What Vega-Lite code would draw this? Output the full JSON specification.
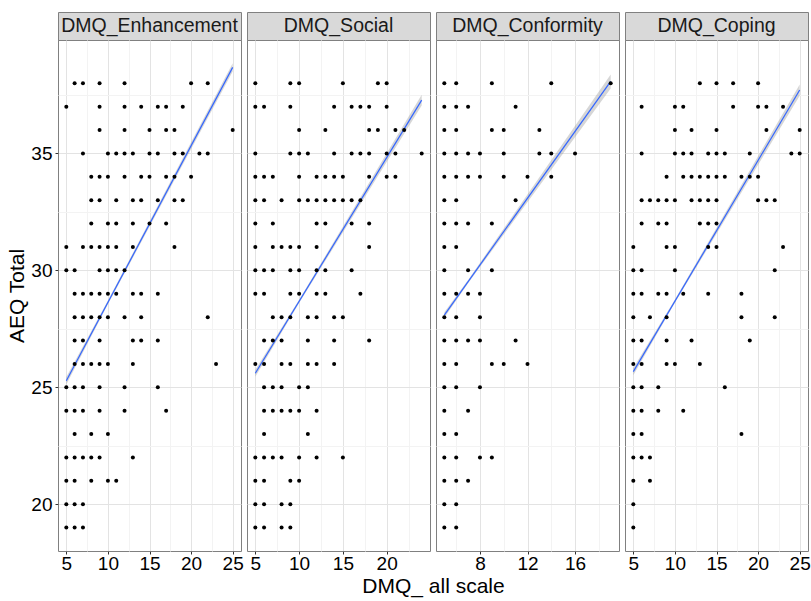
{
"$schema": "https://vega.github.io/schema/vega-lite/v6.json",
"padding": {"left": 6, "top": 11, "right": 0, "bottom": 50},
"config": {"font": "Liberation Sans", "view": {"stroke": "#808080"}, "axis": {"labelOverlap": false, "labelBound": false}},
"datasets": {
"pts": [
{"p":"E","x":6,"y":38},{"p":"E","x":7,"y":38},{"p":"E","x":9,"y":38},{"p":"E","x":12,"y":38},{"p":"E","x":20,"y":38},{"p":"E","x":22,"y":38},
{"p":"E","x":5,"y":37},{"p":"E","x":9,"y":37},{"p":"E","x":12,"y":37},{"p":"E","x":14,"y":37},{"p":"E","x":16,"y":37},{"p":"E","x":17,"y":37},{"p":"E","x":19,"y":37},
{"p":"E","x":9,"y":36},{"p":"E","x":12,"y":36},{"p":"E","x":15,"y":36},{"p":"E","x":17,"y":36},{"p":"E","x":18,"y":36},{"p":"E","x":25,"y":36},
{"p":"E","x":7,"y":35},{"p":"E","x":10,"y":35},{"p":"E","x":11,"y":35},{"p":"E","x":12,"y":35},{"p":"E","x":13,"y":35},{"p":"E","x":15,"y":35},{"p":"E","x":16,"y":35},{"p":"E","x":18,"y":35},{"p":"E","x":19,"y":35},{"p":"E","x":21,"y":35},{"p":"E","x":22,"y":35},
{"p":"E","x":8,"y":34},{"p":"E","x":9,"y":34},{"p":"E","x":10,"y":34},{"p":"E","x":12,"y":34},{"p":"E","x":14,"y":34},{"p":"E","x":15,"y":34},{"p":"E","x":17,"y":34},{"p":"E","x":18,"y":34},{"p":"E","x":20,"y":34},
{"p":"E","x":8,"y":33},{"p":"E","x":9,"y":33},{"p":"E","x":11,"y":33},{"p":"E","x":13,"y":33},{"p":"E","x":14,"y":33},{"p":"E","x":16,"y":33},{"p":"E","x":18,"y":33},{"p":"E","x":19,"y":33},
{"p":"E","x":8,"y":32},{"p":"E","x":10,"y":32},{"p":"E","x":11,"y":32},{"p":"E","x":13,"y":32},{"p":"E","x":15,"y":32},{"p":"E","x":17,"y":32},
{"p":"E","x":5,"y":31},{"p":"E","x":7,"y":31},{"p":"E","x":8,"y":31},{"p":"E","x":9,"y":31},{"p":"E","x":10,"y":31},{"p":"E","x":11,"y":31},{"p":"E","x":13,"y":31},{"p":"E","x":18,"y":31},
{"p":"E","x":5,"y":30},{"p":"E","x":6,"y":30},{"p":"E","x":9,"y":30},{"p":"E","x":10,"y":30},{"p":"E","x":11,"y":30},{"p":"E","x":12,"y":30},
{"p":"E","x":6,"y":29},{"p":"E","x":7,"y":29},{"p":"E","x":8,"y":29},{"p":"E","x":9,"y":29},{"p":"E","x":10,"y":29},{"p":"E","x":11,"y":29},{"p":"E","x":13,"y":29},{"p":"E","x":14,"y":29},{"p":"E","x":16,"y":29},
{"p":"E","x":6,"y":28},{"p":"E","x":7,"y":28},{"p":"E","x":8,"y":28},{"p":"E","x":9,"y":28},{"p":"E","x":10,"y":28},{"p":"E","x":12,"y":28},{"p":"E","x":14,"y":28},{"p":"E","x":22,"y":28},
{"p":"E","x":6,"y":27},{"p":"E","x":7,"y":27},{"p":"E","x":9,"y":27},{"p":"E","x":13,"y":27},{"p":"E","x":14,"y":27},{"p":"E","x":16,"y":27},
{"p":"E","x":6,"y":26},{"p":"E","x":7,"y":26},{"p":"E","x":8,"y":26},{"p":"E","x":9,"y":26},{"p":"E","x":10,"y":26},{"p":"E","x":13,"y":26},{"p":"E","x":23,"y":26},
{"p":"E","x":5,"y":25},{"p":"E","x":6,"y":25},{"p":"E","x":7,"y":25},{"p":"E","x":9,"y":25},{"p":"E","x":12,"y":25},{"p":"E","x":16,"y":25},
{"p":"E","x":5,"y":24},{"p":"E","x":6,"y":24},{"p":"E","x":7,"y":24},{"p":"E","x":9,"y":24},{"p":"E","x":12,"y":24},{"p":"E","x":17,"y":24},
{"p":"E","x":6,"y":23},{"p":"E","x":8,"y":23},{"p":"E","x":10,"y":23},
{"p":"E","x":5,"y":22},{"p":"E","x":6,"y":22},{"p":"E","x":7,"y":22},{"p":"E","x":8,"y":22},{"p":"E","x":9,"y":22},{"p":"E","x":13,"y":22},
{"p":"E","x":5,"y":21},{"p":"E","x":6,"y":21},{"p":"E","x":8,"y":21},{"p":"E","x":10,"y":21},{"p":"E","x":11,"y":21},
{"p":"E","x":5,"y":20},{"p":"E","x":6,"y":20},{"p":"E","x":7,"y":20},
{"p":"E","x":5,"y":19},{"p":"E","x":6,"y":19},{"p":"E","x":7,"y":19},

{"p":"S","x":5,"y":38},{"p":"S","x":9,"y":38},{"p":"S","x":10,"y":38},{"p":"S","x":15,"y":38},{"p":"S","x":19,"y":38},{"p":"S","x":20,"y":38},
{"p":"S","x":5,"y":37},{"p":"S","x":6,"y":37},{"p":"S","x":9,"y":37},{"p":"S","x":14,"y":37},{"p":"S","x":16,"y":37},{"p":"S","x":17,"y":37},{"p":"S","x":18,"y":37},{"p":"S","x":20,"y":37},
{"p":"S","x":10,"y":36},{"p":"S","x":13,"y":36},{"p":"S","x":18,"y":36},{"p":"S","x":19,"y":36},{"p":"S","x":21,"y":36},{"p":"S","x":22,"y":36},
{"p":"S","x":5,"y":35},{"p":"S","x":9,"y":35},{"p":"S","x":10,"y":35},{"p":"S","x":11,"y":35},{"p":"S","x":14,"y":35},{"p":"S","x":16,"y":35},{"p":"S","x":17,"y":35},{"p":"S","x":18,"y":35},{"p":"S","x":20,"y":35},{"p":"S","x":21,"y":35},{"p":"S","x":24,"y":35},
{"p":"S","x":5,"y":34},{"p":"S","x":6,"y":34},{"p":"S","x":7,"y":34},{"p":"S","x":10,"y":34},{"p":"S","x":12,"y":34},{"p":"S","x":13,"y":34},{"p":"S","x":14,"y":34},{"p":"S","x":15,"y":34},{"p":"S","x":18,"y":34},{"p":"S","x":20,"y":34},{"p":"S","x":21,"y":34},
{"p":"S","x":5,"y":33},{"p":"S","x":6,"y":33},{"p":"S","x":8,"y":33},{"p":"S","x":10,"y":33},{"p":"S","x":11,"y":33},{"p":"S","x":12,"y":33},{"p":"S","x":13,"y":33},{"p":"S","x":14,"y":33},{"p":"S","x":15,"y":33},{"p":"S","x":16,"y":33},{"p":"S","x":17,"y":33},
{"p":"S","x":5,"y":32},{"p":"S","x":7,"y":32},{"p":"S","x":12,"y":32},{"p":"S","x":13,"y":32},{"p":"S","x":16,"y":32},{"p":"S","x":18,"y":32},
{"p":"S","x":5,"y":31},{"p":"S","x":7,"y":31},{"p":"S","x":8,"y":31},{"p":"S","x":9,"y":31},{"p":"S","x":10,"y":31},{"p":"S","x":12,"y":31},{"p":"S","x":18,"y":31},
{"p":"S","x":5,"y":30},{"p":"S","x":6,"y":30},{"p":"S","x":7,"y":30},{"p":"S","x":9,"y":30},{"p":"S","x":10,"y":30},{"p":"S","x":12,"y":30},{"p":"S","x":13,"y":30},{"p":"S","x":16,"y":30},
{"p":"S","x":5,"y":29},{"p":"S","x":6,"y":29},{"p":"S","x":9,"y":29},{"p":"S","x":10,"y":29},{"p":"S","x":12,"y":29},{"p":"S","x":13,"y":29},{"p":"S","x":17,"y":29},
{"p":"S","x":7,"y":28},{"p":"S","x":8,"y":28},{"p":"S","x":9,"y":28},{"p":"S","x":11,"y":28},{"p":"S","x":12,"y":28},{"p":"S","x":14,"y":28},{"p":"S","x":15,"y":28},
{"p":"S","x":6,"y":27},{"p":"S","x":7,"y":27},{"p":"S","x":8,"y":27},{"p":"S","x":11,"y":27},{"p":"S","x":14,"y":27},{"p":"S","x":18,"y":27},
{"p":"S","x":5,"y":26},{"p":"S","x":6,"y":26},{"p":"S","x":8,"y":26},{"p":"S","x":9,"y":26},{"p":"S","x":11,"y":26},{"p":"S","x":12,"y":26},{"p":"S","x":14,"y":26},
{"p":"S","x":6,"y":25},{"p":"S","x":7,"y":25},{"p":"S","x":8,"y":25},{"p":"S","x":10,"y":25},{"p":"S","x":11,"y":25},
{"p":"S","x":6,"y":24},{"p":"S","x":7,"y":24},{"p":"S","x":8,"y":24},{"p":"S","x":9,"y":24},{"p":"S","x":10,"y":24},{"p":"S","x":12,"y":24},
{"p":"S","x":6,"y":23},{"p":"S","x":11,"y":23},
{"p":"S","x":5,"y":22},{"p":"S","x":6,"y":22},{"p":"S","x":7,"y":22},{"p":"S","x":8,"y":22},{"p":"S","x":10,"y":22},{"p":"S","x":12,"y":22},{"p":"S","x":15,"y":22},
{"p":"S","x":5,"y":21},{"p":"S","x":6,"y":21},{"p":"S","x":9,"y":21},{"p":"S","x":10,"y":21},
{"p":"S","x":5,"y":20},{"p":"S","x":6,"y":20},{"p":"S","x":8,"y":20},{"p":"S","x":9,"y":20},
{"p":"S","x":5,"y":19},{"p":"S","x":6,"y":19},{"p":"S","x":8,"y":19},{"p":"S","x":9,"y":19},

{"p":"C","x":5,"y":38},{"p":"C","x":6,"y":38},{"p":"C","x":9,"y":38},{"p":"C","x":14,"y":38},{"p":"C","x":19,"y":38},
{"p":"C","x":5,"y":37},{"p":"C","x":6,"y":37},{"p":"C","x":7,"y":37},{"p":"C","x":11,"y":37},
{"p":"C","x":5,"y":36},{"p":"C","x":6,"y":36},{"p":"C","x":9,"y":36},{"p":"C","x":10,"y":36},{"p":"C","x":13,"y":36},
{"p":"C","x":5,"y":35},{"p":"C","x":6,"y":35},{"p":"C","x":7,"y":35},{"p":"C","x":8,"y":35},{"p":"C","x":10,"y":35},{"p":"C","x":13,"y":35},{"p":"C","x":14,"y":35},{"p":"C","x":16,"y":35},
{"p":"C","x":5,"y":34},{"p":"C","x":6,"y":34},{"p":"C","x":7,"y":34},{"p":"C","x":8,"y":34},{"p":"C","x":10,"y":34},{"p":"C","x":12,"y":34},{"p":"C","x":14,"y":34},
{"p":"C","x":5,"y":33},{"p":"C","x":6,"y":33},{"p":"C","x":11,"y":33},
{"p":"C","x":5,"y":32},{"p":"C","x":6,"y":32},{"p":"C","x":7,"y":32},{"p":"C","x":9,"y":32},
{"p":"C","x":5,"y":31},{"p":"C","x":6,"y":31},
{"p":"C","x":5,"y":30},{"p":"C","x":7,"y":30},{"p":"C","x":9,"y":30},
{"p":"C","x":5,"y":29},{"p":"C","x":6,"y":29},{"p":"C","x":7,"y":29},{"p":"C","x":8,"y":29},
{"p":"C","x":5,"y":28},{"p":"C","x":6,"y":28},{"p":"C","x":8,"y":28},
{"p":"C","x":5,"y":27},{"p":"C","x":6,"y":27},{"p":"C","x":7,"y":27},{"p":"C","x":8,"y":27},{"p":"C","x":11,"y":27},
{"p":"C","x":5,"y":26},{"p":"C","x":6,"y":26},{"p":"C","x":9,"y":26},{"p":"C","x":10,"y":26},{"p":"C","x":12,"y":26},
{"p":"C","x":5,"y":25},{"p":"C","x":6,"y":25},{"p":"C","x":8,"y":25},
{"p":"C","x":5,"y":24},{"p":"C","x":7,"y":24},
{"p":"C","x":5,"y":23},{"p":"C","x":6,"y":23},
{"p":"C","x":5,"y":22},{"p":"C","x":6,"y":22},{"p":"C","x":8,"y":22},{"p":"C","x":9,"y":22},
{"p":"C","x":5,"y":21},{"p":"C","x":6,"y":21},{"p":"C","x":7,"y":21},
{"p":"C","x":5,"y":20},{"p":"C","x":6,"y":20},
{"p":"C","x":5,"y":19},{"p":"C","x":6,"y":19},

{"p":"P","x":13,"y":38},{"p":"P","x":15,"y":38},{"p":"P","x":17,"y":38},{"p":"P","x":20,"y":38},
{"p":"P","x":6,"y":37},{"p":"P","x":10,"y":37},{"p":"P","x":11,"y":37},{"p":"P","x":17,"y":37},{"p":"P","x":20,"y":37},{"p":"P","x":21,"y":37},{"p":"P","x":23,"y":37},
{"p":"P","x":10,"y":36},{"p":"P","x":12,"y":36},{"p":"P","x":15,"y":36},{"p":"P","x":21,"y":36},{"p":"P","x":25,"y":36},
{"p":"P","x":6,"y":35},{"p":"P","x":10,"y":35},{"p":"P","x":11,"y":35},{"p":"P","x":12,"y":35},{"p":"P","x":14,"y":35},{"p":"P","x":15,"y":35},{"p":"P","x":16,"y":35},{"p":"P","x":19,"y":35},{"p":"P","x":24,"y":35},{"p":"P","x":25,"y":35},
{"p":"P","x":9,"y":34},{"p":"P","x":11,"y":34},{"p":"P","x":12,"y":34},{"p":"P","x":13,"y":34},{"p":"P","x":14,"y":34},{"p":"P","x":15,"y":34},{"p":"P","x":16,"y":34},{"p":"P","x":18,"y":34},{"p":"P","x":19,"y":34},{"p":"P","x":20,"y":34},
{"p":"P","x":6,"y":33},{"p":"P","x":7,"y":33},{"p":"P","x":8,"y":33},{"p":"P","x":9,"y":33},{"p":"P","x":10,"y":33},{"p":"P","x":12,"y":33},{"p":"P","x":13,"y":33},{"p":"P","x":14,"y":33},{"p":"P","x":15,"y":33},{"p":"P","x":20,"y":33},{"p":"P","x":21,"y":33},{"p":"P","x":22,"y":33},
{"p":"P","x":6,"y":32},{"p":"P","x":8,"y":32},{"p":"P","x":9,"y":32},{"p":"P","x":13,"y":32},{"p":"P","x":14,"y":32},{"p":"P","x":15,"y":32},
{"p":"P","x":5,"y":31},{"p":"P","x":9,"y":31},{"p":"P","x":10,"y":31},{"p":"P","x":14,"y":31},{"p":"P","x":15,"y":31},{"p":"P","x":23,"y":31},
{"p":"P","x":5,"y":30},{"p":"P","x":6,"y":30},{"p":"P","x":10,"y":30},{"p":"P","x":22,"y":30},
{"p":"P","x":5,"y":29},{"p":"P","x":6,"y":29},{"p":"P","x":8,"y":29},{"p":"P","x":9,"y":29},{"p":"P","x":11,"y":29},{"p":"P","x":14,"y":29},{"p":"P","x":18,"y":29},
{"p":"P","x":5,"y":28},{"p":"P","x":7,"y":28},{"p":"P","x":9,"y":28},{"p":"P","x":18,"y":28},{"p":"P","x":22,"y":28},
{"p":"P","x":5,"y":27},{"p":"P","x":6,"y":27},{"p":"P","x":9,"y":27},{"p":"P","x":12,"y":27},{"p":"P","x":19,"y":27},
{"p":"P","x":5,"y":26},{"p":"P","x":6,"y":26},{"p":"P","x":9,"y":26},{"p":"P","x":10,"y":26},{"p":"P","x":13,"y":26},
{"p":"P","x":5,"y":25},{"p":"P","x":6,"y":25},{"p":"P","x":8,"y":25},{"p":"P","x":16,"y":25},
{"p":"P","x":5,"y":24},{"p":"P","x":6,"y":24},{"p":"P","x":8,"y":24},{"p":"P","x":11,"y":24},
{"p":"P","x":5,"y":23},{"p":"P","x":6,"y":23},{"p":"P","x":18,"y":23},
{"p":"P","x":5,"y":22},{"p":"P","x":6,"y":22},{"p":"P","x":7,"y":22},
{"p":"P","x":5,"y":21},{"p":"P","x":7,"y":21},
{"p":"P","x":5,"y":20},
{"p":"P","x":5,"y":19}
],
"line": [
{"p":"E","x":5,"y":25.28},{"p":"E","x":25,"y":38.68},
{"p":"S","x":5,"y":25.6},{"p":"S","x":24,"y":37.28},
{"p":"C","x":5,"y":28.09},{"p":"C","x":19,"y":38.08},
{"p":"P","x":5,"y":25.67},{"p":"P","x":25,"y":37.71}
],
"band": [
{"p":"E","x":5,"y":25.12,"yhi":25.44},{"p":"E","x":10,"y":28.55,"yhi":28.71},{"p":"E","x":25,"y":38.5,"yhi":38.86},
{"p":"S","x":5,"y":25.45,"yhi":25.75},{"p":"S","x":10,"y":28.6,"yhi":28.74},{"p":"S","x":24,"y":37.05,"yhi":37.51},
{"p":"C","x":5,"y":27.97,"yhi":28.21},{"p":"C","x":7,"y":29.45,"yhi":29.59},{"p":"C","x":19,"y":37.78,"yhi":38.38},
{"p":"P","x":5,"y":25.52,"yhi":25.82},{"p":"P","x":10,"y":28.61,"yhi":28.75},{"p":"P","x":25,"y":37.47,"yhi":37.95}
]
},
"columns": 4,
"spacing": {"row": 0, "column": 6},
"bounds": "flush",
"concat": [
 {"width": 183, "height": 28, "view": {"fill": "#d9d9d9", "stroke": "#808080"},
  "data": {"values": [{"label": "DMQ_Enhancement"}]},
  "mark": {"type": "text", "fontSize": 19.5, "color": "#1a1a1a", "baseline": "middle"},
  "encoding": {"text": {"field": "label"}, "x": {"field": "label", "type": "nominal", "axis": null}, "y": {"field": "label", "type": "nominal", "axis": null}}},
 {"width": 183, "height": 28, "view": {"fill": "#d9d9d9", "stroke": "#808080"},
  "data": {"values": [{"label": "DMQ_Social"}]},
  "mark": {"type": "text", "fontSize": 19.5, "color": "#1a1a1a", "baseline": "middle"},
  "encoding": {"text": {"field": "label"}, "x": {"field": "label", "type": "nominal", "axis": null}, "y": {"field": "label", "type": "nominal", "axis": null}}},
 {"width": 183, "height": 28, "view": {"fill": "#d9d9d9", "stroke": "#808080"},
  "data": {"values": [{"label": "DMQ_Conformity"}]},
  "mark": {"type": "text", "fontSize": 19.5, "color": "#1a1a1a", "baseline": "middle"},
  "encoding": {"text": {"field": "label"}, "x": {"field": "label", "type": "nominal", "axis": null}, "y": {"field": "label", "type": "nominal", "axis": null}}},
 {"width": 183, "height": 28, "view": {"fill": "#d9d9d9", "stroke": "#808080"},
  "data": {"values": [{"label": "DMQ_Coping"}]},
  "mark": {"type": "text", "fontSize": 19.5, "color": "#1a1a1a", "baseline": "middle"},
  "encoding": {"text": {"field": "label"}, "x": {"field": "label", "type": "nominal", "axis": null}, "y": {"field": "label", "type": "nominal", "axis": null}}},
 {"width": 183, "height": 511,
  "encoding": {
   "x": {"field": "x", "type": "quantitative", "title": null, "scale": {"domain": [4, 26], "nice": false, "zero": false},
    "axis": {"values": [5,7.5,10,12.5,15,17.5,20,22.5,25], "labelExpr": "datum.value % 5 === 0 ? datum.label : ''", "labelFontSize": 19, "labelColor": "#000000", "labelPadding": 0, "tickColor": "#333333", "tickSize": 3, "tickOpacity": {"condition": {"test": "datum.value % 5 !== 0", "value": 0}, "value": 1}, "domain": false, "gridColor": {"condition": {"test": "datum.value % 5 === 0", "value": "#e3e3e3"}, "value": "#f3f3f3"}}},
   "y": {"field": "y", "type": "quantitative", "title": "AEQ Total", "scale": {"domain": [18.0, 39.85], "nice": false, "zero": false},
    "axis": {"values": [20,22.5,25,27.5,30,32.5,35,37.5], "labelExpr": "datum.value % 5 === 0 ? datum.label : ''", "labelFontSize": 19, "labelColor": "#000000", "labelPadding": 3, "tickColor": "#333333", "tickSize": 3, "tickOpacity": {"condition": {"test": "datum.value % 5 !== 0", "value": 0}, "value": 1}, "domain": false, "titleFontSize": 21, "titleFontWeight": "normal", "titleColor": "#000000", "titlePadding": 3, "gridColor": {"condition": {"test": "datum.value % 5 === 0", "value": "#e3e3e3"}, "value": "#f3f3f3"}}}
  },
  "layer": [
   {"data": {"name": "band"}, "transform": [{"filter": "datum.p === 'E'"}], "mark": {"type": "area", "color": "#999999", "opacity": 0.4}, "encoding": {"y2": {"field": "yhi"}}},
   {"data": {"name": "line"}, "transform": [{"filter": "datum.p === 'E'"}], "mark": {"type": "line", "color": "#3366FF", "strokeWidth": 1.2}, "encoding": {}},
   {"data": {"name": "pts"}, "transform": [{"filter": "datum.p === 'E'"}], "mark": {"type": "circle", "color": "#000000", "size": 16, "opacity": 1}, "encoding": {}}
  ]},
 {"width": 183, "height": 511,
  "encoding": {
   "x": {"field": "x", "type": "quantitative", "title": "DMQ_ all scale", "scale": {"domain": [4.05, 24.95], "nice": false, "zero": false},
    "axis": {"values": [5,7.5,10,12.5,15,17.5,20,22.5], "labelExpr": "datum.value % 5 === 0 ? datum.label : ''", "labelFontSize": 19, "labelColor": "#000000", "labelPadding": 0, "tickColor": "#333333", "tickSize": 3, "tickOpacity": {"condition": {"test": "datum.value % 5 !== 0", "value": 0}, "value": 1}, "domain": false, "titleFontSize": 21, "titleFontWeight": "normal", "titleColor": "#000000", "titlePadding": 2, "titleX": 186, "titleAlign": "center", "gridColor": {"condition": {"test": "datum.value % 5 === 0", "value": "#e3e3e3"}, "value": "#f3f3f3"}}},
   "y": {"field": "y", "type": "quantitative", "title": null, "scale": {"domain": [18.0, 39.85], "nice": false, "zero": false},
    "axis": {"values": [20,22.5,25,27.5,30,32.5,35,37.5], "labels": false, "ticks": false, "domain": false, "gridColor": {"condition": {"test": "datum.value % 5 === 0", "value": "#e3e3e3"}, "value": "#f3f3f3"}}}
  },
  "layer": [
   {"data": {"name": "band"}, "transform": [{"filter": "datum.p === 'S'"}], "mark": {"type": "area", "color": "#999999", "opacity": 0.4}, "encoding": {"y2": {"field": "yhi"}}},
   {"data": {"name": "line"}, "transform": [{"filter": "datum.p === 'S'"}], "mark": {"type": "line", "color": "#3366FF", "strokeWidth": 1.2}, "encoding": {}},
   {"data": {"name": "pts"}, "transform": [{"filter": "datum.p === 'S'"}], "mark": {"type": "circle", "color": "#000000", "size": 16, "opacity": 1}, "encoding": {}}
  ]},
 {"width": 183, "height": 511,
  "encoding": {
   "x": {"field": "x", "type": "quantitative", "title": null, "scale": {"domain": [4.3, 19.7], "nice": false, "zero": false},
    "axis": {"values": [6,8,10,12,14,16,18], "labelExpr": "datum.value % 4 === 0 ? datum.label : ''", "labelFontSize": 19, "labelColor": "#000000", "labelPadding": 0, "tickColor": "#333333", "tickSize": 3, "tickOpacity": {"condition": {"test": "datum.value % 4 !== 0", "value": 0}, "value": 1}, "domain": false, "gridColor": {"condition": {"test": "datum.value % 4 === 0", "value": "#e3e3e3"}, "value": "#f3f3f3"}}},
   "y": {"field": "y", "type": "quantitative", "title": null, "scale": {"domain": [18.0, 39.85], "nice": false, "zero": false},
    "axis": {"values": [20,22.5,25,27.5,30,32.5,35,37.5], "labels": false, "ticks": false, "domain": false, "gridColor": {"condition": {"test": "datum.value % 5 === 0", "value": "#e3e3e3"}, "value": "#f3f3f3"}}}
  },
  "layer": [
   {"data": {"name": "band"}, "transform": [{"filter": "datum.p === 'C'"}], "mark": {"type": "area", "color": "#999999", "opacity": 0.4}, "encoding": {"y2": {"field": "yhi"}}},
   {"data": {"name": "line"}, "transform": [{"filter": "datum.p === 'C'"}], "mark": {"type": "line", "color": "#3366FF", "strokeWidth": 1.2}, "encoding": {}},
   {"data": {"name": "pts"}, "transform": [{"filter": "datum.p === 'C'"}], "mark": {"type": "circle", "color": "#000000", "size": 16, "opacity": 1}, "encoding": {}}
  ]},
 {"width": 183, "height": 511,
  "encoding": {
   "x": {"field": "x", "type": "quantitative", "title": null, "scale": {"domain": [4, 26], "nice": false, "zero": false},
    "axis": {"values": [5,7.5,10,12.5,15,17.5,20,22.5,25], "labelExpr": "datum.value % 5 === 0 ? datum.label : ''", "labelFontSize": 19, "labelColor": "#000000", "labelPadding": 0, "tickColor": "#333333", "tickSize": 3, "tickOpacity": {"condition": {"test": "datum.value % 5 !== 0", "value": 0}, "value": 1}, "domain": false, "gridColor": {"condition": {"test": "datum.value % 5 === 0", "value": "#e3e3e3"}, "value": "#f3f3f3"}}},
   "y": {"field": "y", "type": "quantitative", "title": null, "scale": {"domain": [18.0, 39.85], "nice": false, "zero": false},
    "axis": {"values": [20,22.5,25,27.5,30,32.5,35,37.5], "labels": false, "ticks": false, "domain": false, "gridColor": {"condition": {"test": "datum.value % 5 === 0", "value": "#e3e3e3"}, "value": "#f3f3f3"}}}
  },
  "layer": [
   {"data": {"name": "band"}, "transform": [{"filter": "datum.p === 'P'"}], "mark": {"type": "area", "color": "#999999", "opacity": 0.4}, "encoding": {"y2": {"field": "yhi"}}},
   {"data": {"name": "line"}, "transform": [{"filter": "datum.p === 'P'"}], "mark": {"type": "line", "color": "#3366FF", "strokeWidth": 1.2}, "encoding": {}},
   {"data": {"name": "pts"}, "transform": [{"filter": "datum.p === 'P'"}], "mark": {"type": "circle", "color": "#000000", "size": 16, "opacity": 1}, "encoding": {}}
  ]}
]
}
